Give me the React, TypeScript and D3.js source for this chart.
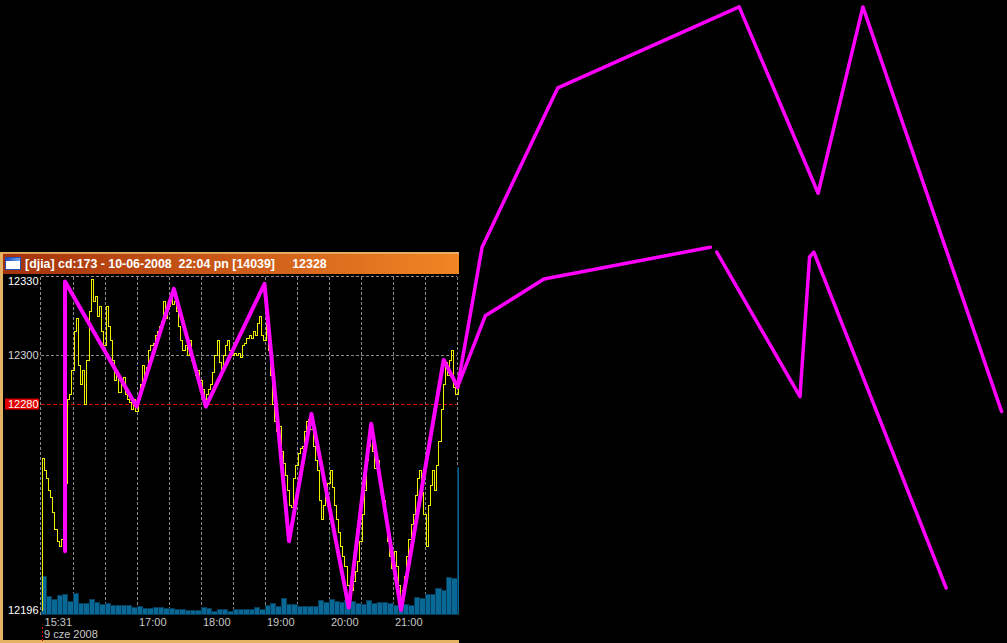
import React from "react";
import * as d3 from "d3";

// ---------- data ----------
const titleText = "[djia] cd:173 - 10-06-2008  22:04 pn [14039]     12328";
const dateLabel = "9 cze 2008";
const timeTickMinutes = [1, 90, 150, 210, 270, 330]; // minutes after 15:30
const timeTickLabels = ["15:31", "17:00", "18:00", "19:00", "20:00", "21:00"];
const gridMinutes = [30, 60, 90, 120, 150, 180, 210, 240, 270, 300, 330, 360, 390];
const priceLabels = [12330, 12300, 12196];
const priceLabelColors = ["#ffffff", "#d4d4d4", "#ffffff"];
const priceGrid = [12300];
const markerPrice = 12280;

const prevClose = 12196;
const priceStartMinute = 1;
const priceStepMinutes = 2;
const prices = [
  12258, 12253, 12250, 12245, 12242, 12236, 12229, 12224, 12222, 12225,
  12235, 12248, 12282, 12284, 12294, 12310, 12315, 12296, 12288, 12294,
  12280, 12298, 12318, 12331, 12322, 12324, 12316, 12320, 12310, 12304,
  12320, 12312, 12306, 12298, 12290, 12293, 12285, 12288, 12291, 12284,
  12282, 12281, 12278, 12282, 12277, 12282, 12288, 12296, 12292, 12295,
  12302, 12304, 12305, 12308, 12310, 12312, 12314, 12322, 12315, 12320,
  12324, 12321, 12322, 12318, 12312, 12306, 12302, 12304, 12300, 12306,
  12298, 12295, 12292, 12294, 12290, 12286, 12282, 12284, 12286, 12288,
  12293, 12300, 12306, 12297, 12294, 12300, 12304, 12306, 12302, 12300,
  12301, 12300, 12301, 12299, 12304, 12305, 12307, 12308, 12307, 12310,
  12308, 12313, 12316, 12308, 12306, 12313, 12302, 12292, 12280, 12273,
  12269, 12271, 12261, 12256, 12251, 12245, 12239, 12238, 12250, 12255,
  12260, 12262, 12263, 12269, 12273, 12274, 12270, 12263, 12257, 12253,
  12241, 12233, 12239, 12243, 12248, 12253, 12246, 12239, 12233, 12228,
  12222, 12218, 12214, 12206, 12201, 12204, 12208, 12212, 12216, 12224,
  12235, 12245, 12257, 12263, 12269, 12261, 12254, 12257, 12250, 12245,
  12241, 12233, 12224, 12218, 12213, 12220, 12214, 12206, 12200, 12204,
  12210, 12218, 12225, 12231, 12235, 12243, 12250, 12253, 12244, 12235,
  12222, 12239, 12247, 12253, 12245, 12255, 12265, 12278, 12288, 12297,
  12292, 12298, 12302, 12287, 12284, 12288,
];

const volumeBucketMinutes = 5;
const volumes = [
  3800, 1800, 1500, 1900, 2000, 1300, 2100, 1100, 1100, 1500,
  1200, 1000, 1100, 900, 900, 900, 900, 700, 800, 600,
  600, 700, 700, 600, 600, 500, 500, 400, 400, 400,
  700, 600, 300, 500, 500, 300, 500, 500, 500, 500,
  700, 500, 900, 1100, 800, 1600, 1000, 1000, 800, 800,
  800, 800, 1400, 1200, 1500, 1300, 1200, 1400, 1300, 1100,
  1000, 1400, 1100, 1200, 1200, 1100, 900, 1400, 1000, 900,
  1700, 1600, 2000, 2000, 2600, 2400, 3700, 3600, 14700,
];

const zigzagMinutes = [23, 23, 90, 125, 155, 210, 233, 254, 289, 310, 338, 378, 391];
const zigzagPrices = [12220, 12330, 12279, 12327, 12279, 12329, 12224, 12276, 12197, 12272, 12196, 12298, 12287];

const projAMinutes = [391, 414, 485, 655, 729, 771, 901];
const projAPrices = [12287, 12344, 12409, 12442, 12366, 12442, 12277];
const projB1Minutes = [391, 417, 472, 628];
const projB1Prices = [12287, 12316, 12331, 12344];
const projB2Minutes = [634, 712, 721, 725, 849];
const projB2Prices = [12342, 12283, 12340, 12342, 12205];

// ---------- layout ----------
const W = 1007;
const H = 643;
const panel = { left: 0, top: 252, right: 459, bottom: 643 };
const plot = { left: 40.5, right: 456.5, top: 276.5, bottom: 614.5 };
const FONT = "'Liberation Sans', Arial, sans-serif";

export default function App() {
  const x = d3.scaleLinear().domain([0, 390]).range([plot.left, plot.right]);
  const y = d3.scaleLinear().domain([12196, 12330]).range([610, 281.5]);
  const yVol = d3.scaleLinear().domain([0, 14700]).range([614, 467]);

  const priceData: [number, number][] = [[0, prevClose]].concat(
    prices.map((p, i) => [priceStartMinute + i * priceStepMinutes, p])
  ) as [number, number][];
  const priceLine = d3
    .line<[number, number]>()
    .x((d) => Math.round(x(d[0])) + 0.5)
    .y((d) => Math.round(y(d[1])) + 0.5)
    .curve(d3.curveStepAfter);

  const poly = d3
    .line<[number, number]>()
    .x((d) => x(d[0]))
    .y((d) => y(d[1]));
  const zip = (a: number[], b: number[]) => a.map((m, i) => [m, b[i]] as [number, number]);

  const grad = "titleGrad";

  return (
    <svg
      width={W}
      height={H}
      style={{ position: "fixed", left: 0, top: 0, background: "#000" }}
    >
      <defs>
        <linearGradient id={grad} x1="0" x2="1" y1="0" y2="0">
          <stop offset="0" stopColor="#a3320a" />
          <stop offset="0.55" stopColor="#cf5e1a" />
          <stop offset="1" stopColor="#f08624" />
        </linearGradient>
        <linearGradient id="iconGrad" x1="0" x2="1">
          <stop offset="0" stopColor="#1848c0" />
          <stop offset="1" stopColor="#78a8f0" />
        </linearGradient>
        <clipPath id="volClip">
          <rect x={41} y={400} width={418} height={215} />
        </clipPath>
      </defs>
      <rect x={0} y={0} width={W} height={H} fill="#000" />

      {/* panel frame */}
      <rect x={0} y={panel.top} width={3} height={H - panel.top} fill="#e4b262" />
      <rect x={0} y={640} width={panel.right} height={3} fill="#e4b262" />
      <rect x={0} y={252} width={panel.right} height={1.5} fill="#e4b262" />

      {/* title bar */}
      <rect x={3} y={253} width={panel.right - 3} height={21} fill={`url(#${grad})`} />
      <rect x={3} y={253} width={panel.right - 3} height={1} fill="#f0b070" opacity={0.8} />
      <rect x={5.5} y={257.5} width={15} height={12} fill="#fff" stroke="#2050b8" strokeWidth={1} />
      <rect x={6} y={258} width={14} height={3} fill="url(#iconGrad)" />
      <text
        x={25}
        y={267.5}
        fill="#fff"
        fontFamily={FONT}
        fontWeight="bold"
        fontSize={12.4}
        style={{ whiteSpace: "pre" }}
        xmlSpace="preserve"
      >
        {titleText}
      </text>

      {/* grid */}
      <g stroke="#8a8a8a" strokeWidth={1} strokeDasharray="3,2" fill="none" shapeRendering="crispEdges">
        <line x1={plot.left} x2={plot.right} y1={plot.top} y2={plot.top} />
        <line x1={plot.left} x2={plot.right} y1={plot.bottom} y2={plot.bottom} />
        <line x1={plot.left} x2={plot.left} y1={plot.top} y2={plot.bottom} />
        {gridMinutes.map((m) => (
          <line key={m} x1={Math.round(x(m)) + 0.5} x2={Math.round(x(m)) + 0.5} y1={plot.top} y2={plot.bottom} />
        ))}
        {priceGrid.map((p) => (
          <line key={p} x1={plot.left} x2={plot.right} y1={Math.round(y(p)) + 0.5} y2={Math.round(y(p)) + 0.5} />
        ))}
      </g>

      {/* volume bars */}
      <g clipPath="url(#volClip)" shapeRendering="crispEdges">
        {volumes.map((v, i) => {
          const x0 = Math.round(x(i * volumeBucketMinutes)) + 0.5;
          const x1 = Math.round(x((i + 1) * volumeBucketMinutes)) + 0.5;
          const top = Math.round(yVol(v)) + 0.5;
          return (
            <rect
              key={i}
              x={x0}
              y={top}
              width={x1 - x0}
              height={614 - top}
              fill="#086896"
              stroke="#053c5a"
              strokeWidth={1}
            />
          );
        })}
      </g>

      {/* marker line */}
      <line
        x1={plot.left}
        x2={plot.right}
        y1={Math.round(y(markerPrice)) + 0.5}
        y2={Math.round(y(markerPrice)) + 0.5}
        stroke="#e00000"
        strokeDasharray="4,2"
        strokeWidth={1}
        shapeRendering="crispEdges"
      />

      {/* price line */}
      <path
        d={priceLine(priceData) || ""}
        fill="none"
        stroke="#eeee00"
        strokeWidth={1}
        shapeRendering="crispEdges"
      />

      {/* zigzag and projections */}
      <g fill="none" stroke="#ff00ff" strokeLinejoin="round" strokeLinecap="round">
        <path d={poly(zip(zigzagMinutes, zigzagPrices)) || ""} strokeWidth={4} />
        <path d={poly(zip(projAMinutes, projAPrices)) || ""} strokeWidth={3.5} />
        <path d={poly(zip(projB1Minutes, projB1Prices)) || ""} strokeWidth={3.5} />
        <path d={poly(zip(projB2Minutes, projB2Prices)) || ""} strokeWidth={3.5} />
      </g>

      {/* y labels */}
      <g fontFamily={FONT} fontSize={11}>
        {priceLabels.map((p, i) => (
          <text key={p} x={38.5} y={y(p)} dy="0.36em" textAnchor="end" fill={priceLabelColors[i]}>
            {p}
          </text>
        ))}
        <rect x={5} y={y(markerPrice) - 5.5} width={34} height={11} fill="#e00000" />
        <text x={38.5} y={y(markerPrice)} dy="0.36em" textAnchor="end" fill="#fff">
          {markerPrice}
        </text>
      </g>

      {/* time labels */}
      <g fontFamily={FONT} fontSize={11} fill="#c8c8c8">
        {timeTickMinutes.map((m, i) => (
          <text key={m} x={x(m) + (i === 0 ? 3 : 2.5)} y={626}>
            {timeTickLabels[i]}
          </text>
        ))}
        <text x={44} y={637.5}>{dateLabel}</text>
      </g>
      <line x1={42.5} x2={42.5} y1={627} y2={641} stroke="#e00000" strokeDasharray="2,2" />
    </svg>
  );
}
